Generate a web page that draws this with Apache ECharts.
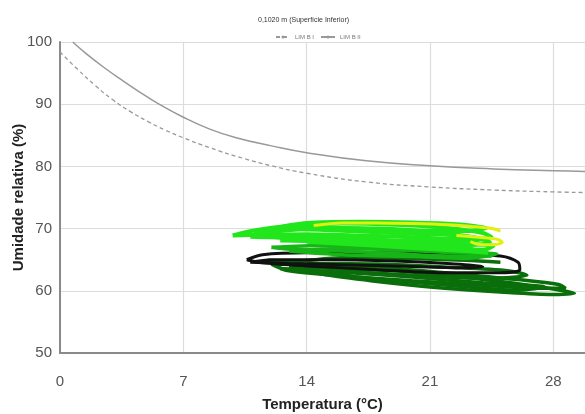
<!DOCTYPE html>
<html><head><meta charset="utf-8">
<script src="https://cdn.jsdelivr.net/npm/echarts@6/dist/echarts.min.js"></script>
<style>html,body{margin:0;padding:0;background:#fff}#c{width:585px;height:414px}</style>
</head><body><div id="c"></div>
<script>
const titleText = '0,1020 m (Superfície Inferior)';
const xTicks = [0, 7, 14, 21, 28];
const yTicks = [50, 60, 70, 80, 90, 100];

const limB1 = [[0,98.4],[1,95.6],[2,93.0],[3,90.7],[4,88.8],[5,87.2],[6,85.8],[7,84.6],[8.5,83.0],[10.4,81.3],[12,80.1],[14,78.9],[17.4,77.5],[21,76.7],[24.6,76.2],[28,75.9],[29.8,75.8]];
const limB2 = [[0.72,100],[1.5,98.1],[2.5,95.9],[3.5,93.9],[4.5,92.0],[5.5,90.2],[7,87.9],[8.5,86.0],[10,84.6],[12,83.3],[14,82.2],[17.4,80.9],[21,80.1],[24.6,79.6],[28,79.3],[29.8,79.2]];

const darkGreenLoops = [
 [[12,64.3],[15,64.2],[19,63.6],[23,62.6],[26,61.8],[28.3,61.0],[28.7,60.4],[27,60.4],[24,60.9],[20,61.6],[16,62.4],[13,63.2],[12,64.3]],
 [[13,63.8],[17,63.5],[21,62.8],[25,61.5],[28,60.3],[29.2,59.6],[28,59.4],[25,59.8],[21,60.6],[18,61.5],[15,62.6],[13,63.8]],
 [[14,64.4],[18,64.3],[22,63.8],[25.5,63.2],[26.5,62.5],[24,62.0],[20,62.5],[16,63.3],[14,64.4]],
 [[12.5,63.6],[16,63.0],[20,62.2],[24,61.3],[27.5,60.6],[26,60.1],[22,60.9],[18,61.9],[14.5,62.9],[12.5,63.6]],
 [[11.8,64.9],[13,64.7],[16,65.3],[20,65.2],[23,64.9],[25,64.6]]
];
const blackLoops = [
 [[10.6,65.0],[11.5,65.8],[14,66.1],[18,66.1],[22,66.0],[25,65.6],[26,64.6],[26.1,63.4],[25,62.9],[22,62.9],[18,63.4],[14,64.0],[11.5,64.5],[10.6,65.0]],
 [[10.8,64.6],[12,65.0],[15,65.0],[19,64.8],[22,64.4],[24,63.9],[23,63.7],[20,63.9],[16,64.2],[13,64.4],[10.8,64.6]]
];
const midGreenLoops = [
 [[12,67.0],[15,67.3],[18,67.0],[21,66.5],[24,66.0],[24.5,65.6],[22,65.6],[19,66.0],[16,66.4],[13,66.7],[12,67.0]],
 [[13,66.4],[16,66.8],[19,66.6],[22,66.2],[24.8,65.9],[23,65.2],[20,65.5],[16,65.8],[13,66.4]]
];
const limeLoops = [
 [[9.8,68.9],[11,69.7],[13,70.4],[16,70.8],[19,70.6],[22,70.1],[24,69.3],[24.5,68.6],[23,68.3],[20,68.6],[17,68.9],[14,69.1],[11.5,69.0],[9.8,68.9]],
 [[10.8,68.7],[12.5,69.6],[15,70.1],[18,70.0],[21,69.5],[23.5,68.6],[24.4,67.8],[23,67.3],[20,67.5],[17,67.9],[14,68.3],[12,68.6],[10.8,68.7]],
 [[12,70.0],[14,70.9],[17,71.1],[20,71.0],[22.5,70.7],[24.2,70.1],[23,69.6],[20,69.7],[17,70.0],[14,70.2],[12,70.0]],
 [[11,69.2],[13.5,69.9],[16.5,69.6],[19.5,69.2],[22.5,68.9],[24,68.2],[22,68.0],[19,68.1],[16,68.5],[13,68.9],[11,69.2]],
 [[12.5,68.1],[15,67.9],[18,67.6],[21,67.0],[24,66.6],[24.6,67.2],[22,67.6],[19,68.0],[16,68.4],[12.5,68.1]],
 [[14,67.9],[17,67.4],[20,66.9],[23,66.4],[24.3,66.1],[23,66.9],[20,67.4],[17,67.8],[14,67.9]]
];
const yellowLoops = [
 [[14.4,70.5],[16,70.9],[18,70.9],[20,70.8],[22,70.6],[23.5,70.3],[24.5,70.0],[25.0,69.6]],
 [[22.5,68.9],[23.8,68.6],[24.8,68.3],[25.1,67.8],[24.6,67.4],[23.7,67.5],[23.3,67.9]]
];

const loopSeries = (loops, color, w) => loops.map(d => ({
  type: 'line', data: d, smooth: 0.3, symbol: 'none', silent: true,
  lineStyle: { color: color, width: w }, z: 3
}));

const chart = echarts.init(document.getElementById('c'), null, { renderer: 'canvas' });
const fam = 'Liberation Sans, Arial, sans-serif';
chart.setOption({
  animation: false,
  title: { text: titleText, left: 253, top: 12, textStyle: { fontSize: 7, fontWeight: 'normal', color: '#333', fontFamily: fam } },
  legend: { top: 29, left: 270, itemWidth: 14, itemHeight: 4, itemGap: 6,
    textStyle: { fontSize: 6, color: '#777', fontFamily: fam },
    data: ['LIM B I', 'LIM B II'] },
  grid: { left: 60, right: 0, top: 42, bottom: 61, outerBoundsMode: 'none', containLabel: false },
  xAxis: { type: 'value', min: xTicks[0], max: 29.8, interval: 7,
    name: 'Temperatura (°C)', nameLocation: 'middle', nameGap: 44, nameMoveOverlap: false,
    nameTextStyle: { fontSize: 15, fontWeight: 'bold', color: '#222', fontFamily: fam },
    axisLine: { show: true, lineStyle: { color: '#8a8a8a', width: 2 } },
    axisTick: { show: false },
    axisLabel: { fontSize: 15, color: '#555', margin: 21, showMaxLabel: false, fontFamily: fam },
    splitLine: { show: true, lineStyle: { color: '#dcdcdc', width: 1.2 } } },
  yAxis: { type: 'value', min: yTicks[0], max: yTicks[yTicks.length-1], interval: 10,
    name: 'Umidade relativa (%)', nameLocation: 'middle', nameGap: 34, nameMoveOverlap: false,
    nameTextStyle: { fontSize: 15, fontWeight: 'bold', color: '#222', fontFamily: fam },
    axisLine: { show: true, lineStyle: { color: '#8a8a8a', width: 2 } },
    axisTick: { show: false },
    axisLabel: { fontSize: 15, color: '#555', margin: 8, fontFamily: fam },
    splitLine: { show: true, lineStyle: { color: '#dcdcdc', width: 1.2 } } },
  series: [
    { name: 'LIM B I', type: 'line', data: limB1, smooth: true, symbol: 'none',
      lineStyle: { color: '#999', width: 1.3, type: [4, 3] }, itemStyle: { color: '#999' } },
    { name: 'LIM B II', type: 'line', data: limB2, smooth: true, symbol: 'none',
      lineStyle: { color: '#999', width: 1.5 }, itemStyle: { color: '#999' } },
    ...loopSeries(darkGreenLoops, '#0a6e0a', 3.5),
    ...loopSeries(blackLoops, '#111111', 3),
    ...loopSeries(midGreenLoops, '#17b517', 3.5),
    ...loopSeries(limeLoops, '#22e61c', 4),
    ...loopSeries(yellowLoops, '#e2ef10', 3)
  ]
});
</script></body></html>
